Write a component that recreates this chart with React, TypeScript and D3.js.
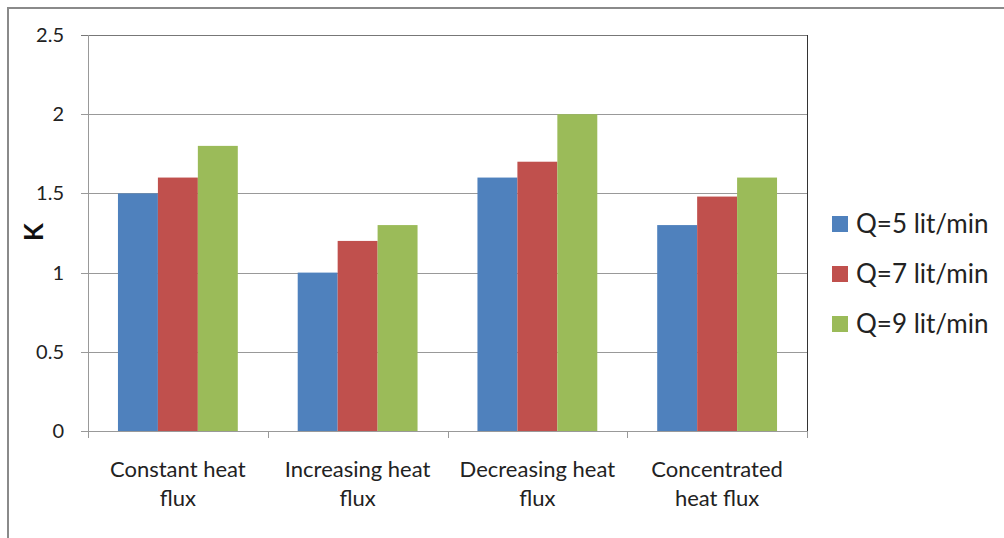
import React from "react";
import * as d3 from "d3";

const categories = [
  ["Constant heat", "flux"],
  ["Increasing heat", "flux"],
  ["Decreasing heat", "flux"],
  ["Concentrated", "heat flux"],
];
const seriesNames = ["Q=5 lit/min", "Q=7 lit/min", "Q=9 lit/min"];
const seriesColors = ["#4F81BD", "#C0504D", "#9BBB59"];
const q5 = [1.5, 1.0, 1.6, 1.3];
const q7 = [1.6, 1.2, 1.7, 1.48];
const q9 = [1.8, 1.3, 2.0, 1.6];
const yTicks = [0, 0.5, 1, 1.5, 2, 2.5];

export default function App() {
  const W = 1004, H = 538;
  const left = 88, right = 807, top = 35, bottom = 431;
  const font = "Lato, 'Open Sans', sans-serif";
  const y = d3.scaleLinear().domain([0, 2.5]).range([bottom, top]);
  const x0 = d3.scaleBand().domain(categories.map((_, i) => String(i))).range([left, right]).paddingInner(0).paddingOuter(0);
  const bw = x0.bandwidth();
  const x1 = d3.scaleBand().domain(seriesNames).range([0, bw]).paddingInner(0).paddingOuter(0.75);
  const series = [q5, q7, q9];
  return (
    <svg width={W} height={H} style={{ position: "absolute", left: 0, top: 0 }}>
      <rect x={0} y={0} width={W} height={H} fill="#fff" />
      <rect x={8} y={8} width={W + 20} height={H + 20} fill="none" stroke="#8a8a8a" strokeWidth={2} />
      {yTicks.map((t) => (
        <g key={t}>
          <line x1={left - 7} x2={right} y1={Math.round(y(t)) + 0.5} y2={Math.round(y(t)) + 0.5} stroke={t === 2.5 ? "#777" : "#999"} strokeWidth={1} />
          <text x={64} y={y(t)} dy="0.35em" textAnchor="end" fontFamily={font} fontSize={20} fill="#222">{t}</text>
        </g>
      ))}
      {series.map((vals, si) =>
        vals.map((v, ci) => (
          <rect key={si + "-" + ci} x={(x0(String(ci)) as number) + (x1(seriesNames[si]) as number)} y={y(v)} width={x1.bandwidth()} height={bottom - y(v)} fill={seriesColors[si]} />
        ))
      )}
      <line x1={left + 0.5} x2={left + 0.5} y1={top} y2={bottom} stroke="#999" />
      <line x1={right + 0.5} x2={right + 0.5} y1={top} y2={bottom} stroke="#333" />
      <line x1={left} x2={right} y1={Math.round(bottom) + 0.5} y2={Math.round(bottom) + 0.5} stroke="#999" />
      {categories.map((_, i) => (
        <line key={i} x1={Math.round(x0(String(i)) as number) + 0.5} x2={Math.round(x0(String(i)) as number) + 0.5} y1={bottom} y2={bottom + 7} stroke="#999" />
      ))}
      <line x1={right + 0.5} x2={right + 0.5} y1={bottom} y2={bottom + 7} stroke="#999" />
      {categories.map((lines, i) => (
        <text key={i} x={(x0(String(i)) as number) + bw / 2} textAnchor="middle" fontFamily={font} fontSize={22} fill="#222">
          {lines.map((l, j) => (
            <tspan key={j} x={(x0(String(i)) as number) + bw / 2} y={477 + j * 29}>{l}</tspan>
          ))}
        </text>
      ))}
      <text transform={`translate(43,232) rotate(-90)`} textAnchor="middle" fontFamily={font} fontWeight="bold" fontSize={26} fill="#111">K</text>
      {seriesNames.map((n, i) => (
        <g key={n} transform={`translate(832,${224 + i * 50})`}>
          <rect x={0} y={-8} width={16} height={16} fill={seriesColors[i]} />
          <text x={24} y={0} dy="0.35em" fontFamily={font} fontSize={26} fill="#222">{n}</text>
        </g>
      ))}
    </svg>
  );
}
